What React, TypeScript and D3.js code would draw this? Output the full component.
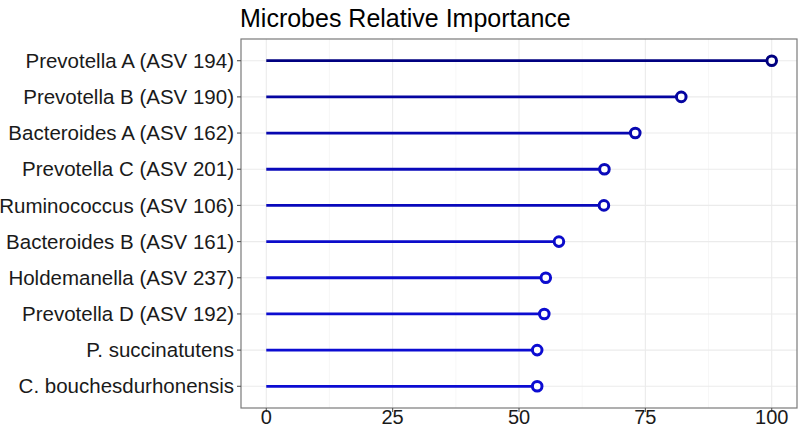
import React from "react";
import * as d3 from "d3";

const categories = [
  "Prevotella A (ASV 194)",
  "Prevotella B (ASV 190)",
  "Bacteroides A (ASV 162)",
  "Prevotella C (ASV 201)",
  "Ruminococcus (ASV 106)",
  "Bacteroides B (ASV 161)",
  "Holdemanella (ASV 237)",
  "Prevotella D (ASV 192)",
  "P. succinatutens",
  "C. bouchesdurhonensis",
];
const importance = [100, 82.1, 73.0, 66.9, 66.8, 57.9, 55.3, 55.0, 53.6, 53.6];
const xTicks = [0, 25, 50, 75, 100];
const title = "Microbes Relative Importance";

export default function App() {
  const W = 800, H = 432;
  const left = 241, right = 797, top = 39, bottom = 408;
  const x = d3.scaleLinear().domain([-5, 105]).range([left, right]);
  const y = d3
    .scalePoint<string>()
    .domain(categories)
    .range([top, bottom])
    .padding(0.6);
  const color = d3
    .scaleLinear<string>()
    .domain([d3.min(importance)!, d3.max(importance)!])
    .range(["#0c0cd2", "#000080"])
    .interpolate(d3.interpolateRgb);
  const minor = [12.5, 37.5, 62.5, 87.5];
  const font = "Liberation Sans, Arial, sans-serif";
  return (
    <svg width={W} height={H} style={{ position: "absolute", left: 0, top: 0 }} fontFamily={font}>
      <rect width={W} height={H} fill="#fff" />
      {minor.map((t) => (
        <line key={"m" + t} x1={x(t)} x2={x(t)} y1={top} y2={bottom} stroke="#f2f2f2" strokeWidth={0.6} />
      ))}
      {xTicks.map((t) => (
        <line key={"g" + t} x1={x(t)} x2={x(t)} y1={top} y2={bottom} stroke="#ebebeb" strokeWidth={1.1} />
      ))}
      {categories.map((c) => (
        <line key={"h" + c} x1={left} x2={right} y1={y(c)} y2={y(c)} stroke="#ebebeb" strokeWidth={1.1} />
      ))}
      {categories.map((c, i) => (
        <g key={c}>
          <line x1={x(0)} x2={x(importance[i])} y1={y(c)} y2={y(c)} stroke={color(importance[i])} strokeWidth={2.8} />
          <circle cx={x(importance[i])} cy={y(c)} r={4.8} fill="#fff" stroke={color(importance[i])} strokeWidth={3} />
        </g>
      ))}
      <rect x={left} y={top} width={right - left} height={bottom - top} fill="none" stroke="#7a7a7a" strokeWidth={1.2} />
      {categories.map((c) => (
        <g key={"yl" + c}>
          <line x1={left - 4} x2={left} y1={y(c)} y2={y(c)} stroke="#555" strokeWidth={1.1} />
          <text x={left - 7} y={y(c)} dy="0.35em" textAnchor="end" fontSize={20.5} fill="#1a1a1a">
            {c}
          </text>
        </g>
      ))}
      {xTicks.map((t) => (
        <g key={"xl" + t}>
          <line x1={x(t)} x2={x(t)} y1={bottom} y2={bottom + 4} stroke="#555" strokeWidth={1.1} />
          <text x={x(t)} y={bottom + 16} textAnchor="middle" fontSize={20} fill="#1a1a1a">
            {t}
          </text>
        </g>
      ))}
      <text x={240} y={27} fontSize={25} fill="#000">
        {title}
      </text>
    </svg>
  );
}
